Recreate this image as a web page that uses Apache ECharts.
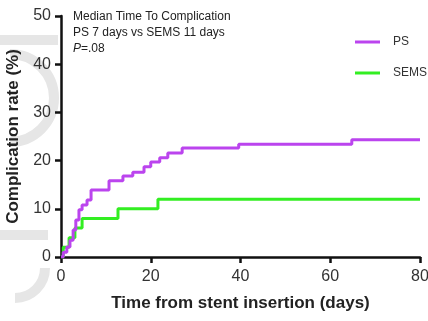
<!DOCTYPE html>
<html>
<head>
<meta charset="utf-8">
<script src="https://cdn.jsdelivr.net/npm/echarts@6/dist/echarts.min.js"></script>
<style>
  html, body { margin: 0; padding: 0; background: #fff; }
  #chart { width: 428px; height: 321px; }
</style>
</head>
<body>
<div id="chart"></div>
<script>
// Kaplan-Meier style step data (day of event, cumulative rate %)
const psDays = [0, 0.5, 1.3, 2.0, 2.7, 3.3, 4.0, 4.7, 5.8, 6.7, 10.7, 13.8, 16.0, 18.5, 20.0, 22.0, 23.8, 27.0, 39.6, 64.8, 80];
const psRate = [0, 1.0, 2.1, 3.5, 5.6, 7.7, 9.8, 10.8, 11.8, 13.9, 15.8, 16.8, 17.6, 18.7, 19.7, 20.6, 21.6, 22.6, 23.4, 24.3, 24.3];
const semsDays = [0, 0.5, 1.8, 3.1, 4.7, 12.7, 21.6, 80];
const semsRate = [0, 2.0, 4.0, 6.0, 8.0, 10.0, 12.0, 12.0];
const yTicks = [0, 10, 20, 30, 40, 50];
const xTicks = [0, 20, 40, 60, 80];

const chart = echarts.init(document.getElementById('chart'));
const font = '"Liberation Sans", Arial, sans-serif';

const toPairs = (xs, ys) => xs.map((x, i) => [x, ys[i]]);

// faint watermark strokes behind the plot
const wm = { stroke: '#e6e6e6', lineWidth: 10, fill: null };

const option = {
  animation: false,
  textStyle: { fontFamily: font },
  graphic: [
    { type: 'rect', z: -10, shape: { x: 0, y: 35, width: 58, height: 10 }, style: { fill: '#e6e6e6' } },
    { type: 'arc', z: -10, shape: { cx: 10, cy: 98, r: 44, startAngle: -Math.PI / 2, endAngle: Math.PI / 2 }, style: wm },
    { type: 'rect', z: -10, shape: { x: 0, y: 230, width: 48, height: 10 }, style: { fill: '#e6e6e6' } },
    { type: 'arc', z: -10, shape: { cx: 15, cy: 268, r: 30, startAngle: 0, endAngle: Math.PI / 2 }, style: wm }
  ],
  title: {
    left: 68,
    top: 4,
    text: 'Median Time To Complication\nPS 7 days vs SEMS 11 days\n{i|P}=.08',
    textStyle: {
      fontSize: 12,
      fontWeight: 'normal',
      color: '#222',
      lineHeight: 16,
      fontFamily: font,
      rich: {
        i: { fontStyle: 'italic', fontSize: 12, color: '#222', fontFamily: font }
      }
    }
  },
  legend: {
    orient: 'vertical',
    left: 350,
    top: 31,
    itemWidth: 25,
    itemHeight: 3,
    itemGap: 19,
    icon: 'rect',
    textStyle: { fontSize: 12, color: '#333', padding: [0, 0, 0, 8] },
    data: ['PS', 'SEMS']
  },
  grid: { left: 61, right: 8, top: 16, bottom: 64, outerBoundsMode: 'none', containLabel: false },
  xAxis: {
    type: 'value',
    min: xTicks[0],
    max: xTicks[xTicks.length - 1],
    interval: 20,
    name: 'Time from stent insertion (days)',
    nameLocation: 'middle',
    nameGap: 38,
    nameTextStyle: { fontSize: 17, fontWeight: 'bold', color: '#222' },
    axisLine: { lineStyle: { color: '#111', width: 2.5 } },
    axisTick: { lineStyle: { color: '#111', width: 2.5 }, length: 6 },
    axisLabel: { fontSize: 16, color: '#333', margin: 12 },
    splitLine: { show: false }
  },
  yAxis: {
    type: 'value',
    min: yTicks[0],
    max: yTicks[yTicks.length - 1],
    interval: 10,
    name: 'Complication rate (%)',
    nameLocation: 'middle',
    nameGap: 38,
    nameTextStyle: { fontSize: 17, fontWeight: 'bold', color: '#222' },
    axisLine: { show: true, lineStyle: { color: '#111', width: 2.5 } },
    axisTick: { show: true, lineStyle: { color: '#111', width: 2.5 }, length: 6 },
    axisLabel: { fontSize: 16, color: '#333', margin: 10 },
    splitLine: { show: false }
  },
  series: [
    {
      name: 'PS',
      type: 'line',
      step: 'end',
      symbol: 'none',
      data: toPairs(psDays, psRate),
      itemStyle: { color: '#bb44ee' },
      lineStyle: { color: '#bb44ee', width: 3 },
      z: 3
    },
    {
      name: 'SEMS',
      type: 'line',
      step: 'end',
      symbol: 'none',
      data: toPairs(semsDays, semsRate),
      itemStyle: { color: '#33ee22' },
      lineStyle: { color: '#33ee22', width: 3 },
      z: 2
    }
  ]
};

chart.setOption(option);
</script>
</body>
</html>
